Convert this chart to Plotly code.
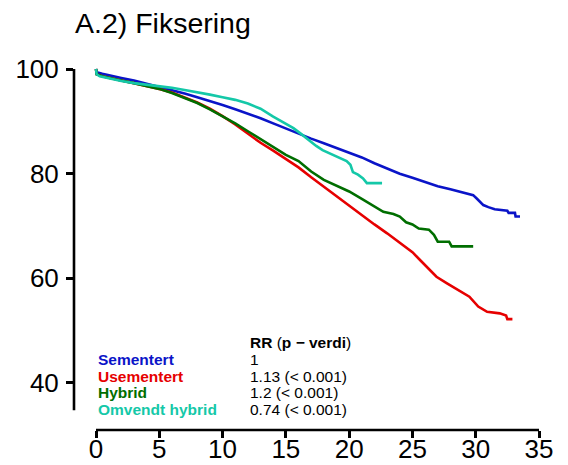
import plotly.graph_objects as go

# ---------------- data ----------------
sem_t = [0, 0.05, 0.5, 1, 2, 3, 4, 5, 6, 7, 8, 9, 10, 11, 12, 13, 14, 15, 16, 17, 18, 19, 20,
         21, 22, 23, 24, 25, 26, 27, 28, 29, 29.8, 30.1, 30.6, 31.0, 31.5, 32.5, 32.6, 33.1, 33.15, 33.5]
sem_v = [100, 99.4, 99.1, 98.8, 98.3, 97.8, 97.2, 96.6, 96.0, 95.3, 94.6, 93.9, 93.1, 92.3, 91.5,
         90.6, 89.6, 88.6, 87.6, 86.7, 85.8, 84.9, 84.1, 83.1, 82.0, 81.0, 80.0, 79.2, 78.4, 77.6,
         77.0, 76.4, 75.9, 75.2, 74.0, 73.6, 73.2, 72.9, 72.5, 72.5, 71.8, 71.8]

use_t = [0, 0.05, 0.5, 1, 2, 3, 4, 5, 6, 7, 8, 9, 10, 11, 12, 13, 14, 15, 16, 17, 18, 19, 20,
         21, 22, 23, 24, 25, 25.6, 26.9, 27.7, 28.5, 29.5, 30.2, 30.9, 31.9, 32.4, 32.5, 32.9]
use_v = [100, 99.0, 98.6, 98.3, 97.8, 97.3, 96.8, 96.2, 95.5, 94.6, 93.6, 92.4, 91.0, 89.4, 87.6,
         85.9, 84.4, 82.8, 81.2, 79.3, 77.5, 75.7, 73.8, 72.0, 70.3, 68.6, 66.8, 65.0, 63.5,
         60.3, 59.1, 58.0, 56.5, 54.6, 53.6, 53.3, 52.9, 52.2, 52.2]

hyb_t = [0, 0.05, 0.5, 1, 2, 3, 4, 5, 6, 7, 8, 9, 10, 11, 12, 13, 14, 15, 16, 17, 18, 19, 20,
         21, 22, 22.7, 23.5, 24, 24.5, 25, 25.5, 26.3, 26.7, 27.0, 27.9, 28.1, 29.8]
hyb_v = [100, 99.0, 98.6, 98.3, 97.8, 97.3, 96.8, 96.2, 95.4, 94.5, 93.5, 92.3, 91.0, 89.6, 88.1,
         86.6, 85.1, 83.6, 82.4, 80.4, 78.8, 77.7, 76.6, 75.2, 73.8, 72.7, 72.3, 71.8, 70.7,
         70.3, 69.5, 69.3, 68.3, 67.0, 67.0, 66.1, 66.1]

omv_t = [0, 0.05, 0.3, 1, 2, 3, 4, 5, 6, 7, 8, 9, 10, 11, 12, 13, 14, 15, 15.6, 16.2, 16.8,
         17.4, 17.9, 18.5, 19.3, 19.8, 20.1, 20.3, 20.7, 21.1, 21.4, 22.6]
omv_v = [100, 99.0, 98.6, 98.2, 97.7, 97.3, 97.0, 96.8, 96.4, 96.0, 95.6, 95.1, 94.6, 94.1, 93.4,
         92.4, 90.9, 89.6, 88.7, 87.6, 86.4, 85.3, 84.5, 83.8, 83.0, 82.4, 81.7, 80.3, 79.8,
         79.1, 78.2, 78.2]

names = ["Sementert", "Usementert", "Hybrid", "Omvendt hybrid"]
rr_labels = ["1", "1.13 (&lt; 0.001)", "1.2 (&lt; 0.001)", "0.74 (&lt; 0.001)"]
colors = ["#0A14C8", "#E60000", "#006E00", "#14C8A8"]

x_ticks = [0, 5, 10, 15, 20, 25, 30, 35]
y_ticks = [40, 60, 80, 100]

FONT = "Liberation Sans, Arial, sans-serif"

# plot area in pixels
W, H = 568, 465
L, R, T, B = 74, 8, 40, 35
pw, ph = W - L - R, H - T - B


def px(xp):
    return (xp - L) / pw


def py(yp):
    return (H - B - yp) / ph


fig = go.Figure()
for t, v, c, n in zip([sem_t, use_t, hyb_t, omv_t], [sem_v, use_v, hyb_v, omv_v], colors, names):
    fig.add_trace(go.Scatter(x=t, y=v, mode="lines", name=n,
                             line=dict(color=c, width=2.6), showlegend=False))

# axis lines (R style, detached)
fig.add_shape(type="line", xref="x", yref="paper", x0=0, x1=35, y0=0, y1=0,
              line=dict(color="black", width=2.6))
fig.add_shape(type="line", xref="paper", yref="y", x0=0, x1=0, y0=34.8, y1=100,
              line=dict(color="black", width=2.6))

ann = []
ann.append(dict(text="A.2) Fiksering", xref="paper", yref="paper", x=px(73), y=py(23),
                xanchor="left", yanchor="middle", showarrow=False,
                font=dict(size=28.5, color="black", family=FONT)))
ann.append(dict(text="<b>RR</b> (<b>p − verdi</b>)", xref="paper", yref="paper", x=px(248), y=py(342),
                xanchor="left", yanchor="middle", showarrow=False,
                font=dict(size=15.5, color="black", family=FONT)))
rows_y = [359, 376, 392, 409]
for n, r, c, yy in zip(names, rr_labels, colors, rows_y):
    ann.append(dict(text="<b>" + n + "</b>", xref="paper", yref="paper", x=px(96), y=py(yy),
                    xanchor="left", yanchor="middle", showarrow=False,
                    font=dict(size=15.5, color=c, family=FONT)))
    ann.append(dict(text=r, xref="paper", yref="paper", x=px(248), y=py(yy),
                    xanchor="left", yanchor="middle", showarrow=False,
                    font=dict(size=15.5, color="black", family=FONT)))

x0r = (L - 96) / 12.657
x1r = x0r + pw / 12.657
y0r = 100 - (H - B - 69) / 5.233
y1r = 100 + (69 - T) / 5.233

fig.update_layout(
    width=W, height=H, margin=dict(l=L, r=R, t=T, b=B, autoexpand=False),
    paper_bgcolor="white", plot_bgcolor="white",
    font=dict(family=FONT, color="black"),
    annotations=ann,
    xaxis=dict(range=[x0r, x1r], tickvals=x_ticks, ticktext=[str(v) for v in x_ticks],
               ticks="outside", ticklen=7, tickwidth=2.6, tickcolor="black",
               showline=False, showgrid=False, zeroline=False, automargin=False,
               ticklabelstandoff=-11,
               tickfont=dict(size=26, family=FONT, color="black")),
    yaxis=dict(range=[y0r, y1r], tickvals=y_ticks, ticktext=[str(v) for v in y_ticks],
               ticks="outside", ticklen=7, tickwidth=2.6, tickcolor="black",
               showline=False, showgrid=False, zeroline=False, automargin=False,
               ticklabelstandoff=2,
               tickfont=dict(size=26, family=FONT, color="black")),
)

fig.write_html("out.html")
